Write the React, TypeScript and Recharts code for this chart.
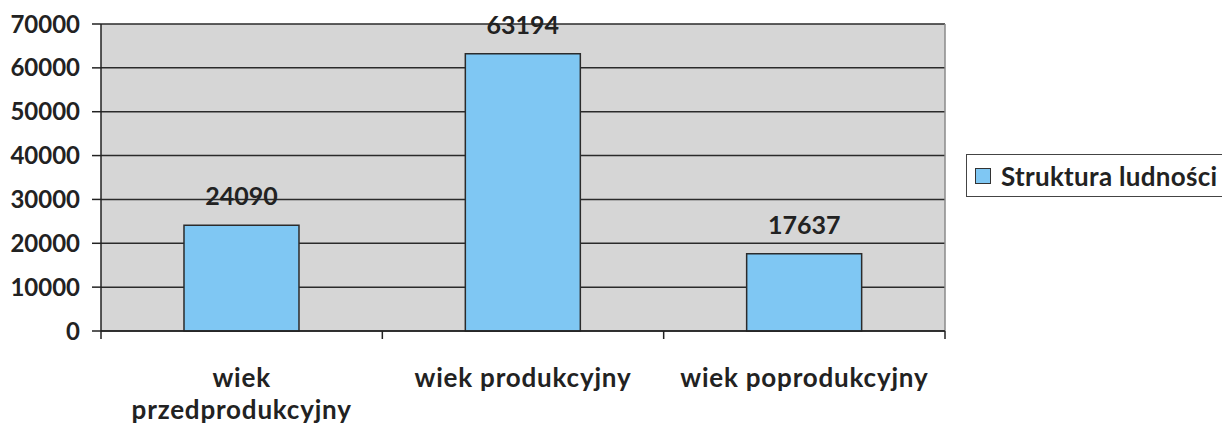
import React from 'react';
import { BarChart, Bar, XAxis, YAxis, CartesianGrid, Legend, LabelList } from 'recharts';

const categories = ['wiek przedprodukcyjny', 'wiek produkcyjny', 'wiek poprodukcyjny'];
const ludnosc = [24090, 63194, 17637];
const yTicks = [0, 10000, 20000, 30000, 40000, 50000, 60000, 70000];
const seriesName = 'Struktura ludności';

const data = categories.map((name, i) => ({ name, value: ludnosc[i] }));

const W = 1222;
const H = 425;
const MARGIN = { top: 24, right: 277, bottom: 0, left: 9 };
const Y_AXIS_W = 92;
const PLOT_W = W - MARGIN.left - MARGIN.right - Y_AXIS_W;
const BAND = PLOT_W / categories.length;
const FONT = 'Lato, "Open Sans", sans-serif';
const INK = '#222';
const BAR_FILL = '#7fc7f3';
const CHAR_W = 13.6; // rough width of one label character

// Excel-like wrapping: break a label into lines when it is wider than the band
const wrapLabel = (label: string) => {
  if (label.length * CHAR_W <= BAND - 10) return [label];
  const words = label.split(' ');
  const lines: string[] = [];
  let cur = '';
  words.forEach((w) => {
    const next = cur ? cur + ' ' + w : w;
    if (cur && next.length * CHAR_W > BAND - 10) {
      lines.push(cur);
      cur = w;
    } else {
      cur = next;
    }
  });
  if (cur) lines.push(cur);
  if (lines.length === 1 && words.length > 1) return [words[0], words.slice(1).join(' ')];
  return lines;
};

const XTick = (props: any) => {
  const { x, y, payload, index } = props;
  const last = index === categories.length - 1;
  const lines = wrapLabel(String(payload.value));
  return (
    <g>
      <line x1={x - BAND / 2} x2={x - BAND / 2} y1={y} y2={y + 8} stroke={INK} strokeWidth={1.5} />
      {last && <line x1={x + BAND / 2} x2={x + BAND / 2} y1={y} y2={y + 8} stroke={INK} strokeWidth={1.5} />}
      <text
        x={x}
        y={y + 56}
        textAnchor="middle"
        fill={INK}
        style={{ fontFamily: FONT, fontSize: 26, fontWeight: 700, letterSpacing: 0.8 }}
      >
        {lines.map((l, i) => (
          <tspan key={i} x={x} dy={i === 0 ? 0 : 32}>
            {l}
          </tspan>
        ))}
      </text>
    </g>
  );
};

const LegendBox = (props: any) => {
  const item = props.payload && props.payload[0];
  return (
    <div
      style={{
        border: '1.5px solid #444',
        background: '#fff',
        height: 43,
        width: 300,
        minWidth: 300,
        display: 'flex',
        alignItems: 'center',
        paddingLeft: 8,
        boxSizing: 'border-box',
        fontFamily: FONT,
        fontWeight: 700,
        fontSize: 26,
        letterSpacing: 0.3,
        color: INK,
        whiteSpace: 'nowrap',
      }}
    >
      <span
        style={{
          display: 'inline-block',
          flexShrink: 0,
          width: 14,
          height: 14,
          background: BAR_FILL,
          border: '1.5px solid #333',
          marginRight: 10,
        }}
      />
      {item ? item.value : seriesName}
    </div>
  );
};

export default function App() {
  return (
    <div style={{ width: W, height: H, overflow: 'hidden', position: 'relative', background: '#fff' }}>
      <style>{'body{margin:0}'}</style>
      <BarChart width={W} height={H} data={data} margin={MARGIN} barCategoryGap="29.5%">
        <CartesianGrid horizontal vertical={false} stroke="#2a2a2a" strokeWidth={1.5} fill="#d6d6d6" />
        <CartesianGrid
          horizontal={false}
          vertical
          stroke="#8a8a8a"
          strokeWidth={1.5}
          verticalCoordinatesGenerator={({ offset }: any) => [offset.left + offset.width]}
        />
        <XAxis
          dataKey="name"
          height={H - MARGIN.top - 307}
          axisLine={{ stroke: INK, strokeWidth: 1.5 }}
          tickLine={false}
          tickSize={0}
          tickMargin={0}
          interval={0}
          tick={<XTick />}
        />
        <YAxis
          width={Y_AXIS_W}
          domain={[0, 70000]}
          ticks={yTicks}
          interval={0}
          axisLine={{ stroke: INK, strokeWidth: 1.5 }}
          tickLine={{ stroke: INK, strokeWidth: 1.5 }}
          tickSize={9}
          tickMargin={12}
          tick={{ fill: INK, fontFamily: FONT, fontSize: 24, fontWeight: 700 }}
        />
        <Legend
          layout="vertical"
          align="center"
          verticalAlign="middle"
          content={<LegendBox />}
          wrapperStyle={{ position: 'absolute', left: 966, top: 154, width: 300 }}
        />
        <Bar dataKey="value" name={seriesName} fill={BAR_FILL} stroke="#2b2b2b" strokeWidth={1.5} isAnimationActive={false}>
          <LabelList
            dataKey="value"
            position="top"
            offset={20}
            fill={INK}
            style={{ fontFamily: FONT, fontSize: 25, fontWeight: 700 }}
          />
        </Bar>
      </BarChart>
    </div>
  );
}
